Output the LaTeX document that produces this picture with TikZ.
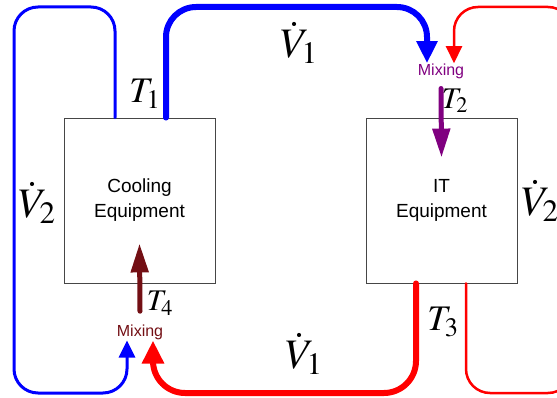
\documentclass[tikz,border=0pt]{standalone}
\usepackage{mathptmx}
\usepackage[no-math]{fontspec}
\setmainfont{Liberation Sans}
\usetikzlibrary{arrows.meta, calc}
\definecolor{pipeblue}{RGB}{0,0,255}
\definecolor{pipered}{RGB}{255,0,0}
\definecolor{mixpurple}{RGB}{128,0,128}
\definecolor{mixmaroon}{RGB}{115,15,20}
\definecolor{boxgray}{RGB}{70,70,70}
\tikzset{
  unit/.style={rectangle, draw=boxgray, line width=0.9pt,
    minimum width=151pt, minimum height=165pt, align=center,
    font=\fontsize{19}{25}\selectfont},
  thinblue/.style={draw=pipeblue, line width=3pt, rounded corners=24pt,
    line cap=round, -{Triangle[width=16pt,length=17pt]}},
  thickblue/.style={draw=pipeblue, line width=6pt, rounded corners=30pt,
    line cap=round, -{Triangle[width=20pt,length=22pt]}},
  thinred/.style={draw=pipered, line width=2.5pt, rounded corners=24pt,
    line cap=round, -{Triangle[width=16pt,length=17pt]}},
  thickred/.style={draw=pipered, line width=6pt, rounded corners=32pt,
    line cap=round, -{Triangle[width=21pt,length=23pt]}},
  mixarrow/.style={line width=5pt, line cap=round,
    -{Triangle[width=17pt,length=29pt]}},
  mixlabel/.style={anchor=base, inner sep=1pt, font=\fontsize{16}{18}\selectfont},
  biglabel/.style={inner sep=0pt, font=\fontsize{42}{46}\selectfont},
  tlabel/.style={inner sep=0pt, font=\fontsize{36}{40}\selectfont},
  smalltlabel/.style={inner sep=0pt, font=\fontsize{30}{34}\selectfont}
}
\begin{document}
\begin{tikzpicture}[x=1pt, y=-1pt]
  \useasboundingbox (0,0) rectangle (557,398);
  \clip (0,0) rectangle (557,398);

  % Equipment boxes
  \node[unit] (cooling) at (139.5,200.5) {Cooling\\Equipment};
  \node[unit] (it) at (441.5,200.5) {IT\\Equipment};

  % Mixing points
  \node[mixlabel, text=mixpurple] (mixtop) at (441,76) {Mixing};
  \node[mixlabel, text=mixmaroon] (mixbot) at (140,336) {Mixing};

  % Loop frame
  \coordinate (ltop) at (14,7);
  \coordinate (lbot) at (14,393);
  \coordinate (rtop) at (572,7);
  \coordinate (rbot) at (572,393);

  % Ports on the boxes
  \coordinate (cret) at ([xshift=-24.5pt]cooling.north);
  \coordinate (csup) at ([xshift=26.5pt]cooling.north);
  \coordinate (itsup) at ([xshift=-25.5pt]it.south);
  \coordinate (itret) at ([xshift=24.5pt]it.south);

  % Bypass loop around the cooling equipment
  \draw[thinblue] (cret) -- (cret |- ltop) -- (ltop) -- (lbot) -| ([xshift=-13pt]mixbot.south);

  % Supply line to the IT side
  \draw[thickblue] (csup) -- (csup |- ltop) -| ([xshift=-14pt]mixtop.north);

  % Recirculation loop around the IT equipment
  \draw[thinred] (itret) -- (itret |- lbot) -- (rbot) -- (rtop) -| ([xshift=13pt]mixtop.north);

  % Return line to the cooling side
  \draw[thickred] (itsup) -- (itsup |- lbot) -| ([xshift=13pt]mixbot.south);

  % Mixed streams entering the boxes
  \draw[mixarrow, draw=mixpurple, fill=mixpurple] ([yshift=-8pt]mixtop.south) -- ([yshift=-40pt]it.north);
  \draw[mixarrow, draw=mixmaroon, fill=mixmaroon] ([yshift=12pt]mixbot.north) -- ([yshift=40pt]cooling.south);

  % Flow and temperature labels
  \node[biglabel] (v1top) at (299,43) {$\dot{V}_1$};
  \node[biglabel] (v1bot) at (304,354) {$\dot{V}_1$};
  \node[biglabel] (v2left) at (37,203) {$\dot{V}_2$};
  \node[biglabel] (v2right) at (540,201) {$\dot{V}_2$};
  \node[tlabel] (t1) at (145,94) {$T_1$};
  \node[tlabel] (t3) at (443,322) {$T_3$};
  \node[smalltlabel] (t2) at (455,101) {$T_2$};
  \node[smalltlabel] (t4) at (160,303) {$T_4$};
\end{tikzpicture}
\end{document}
